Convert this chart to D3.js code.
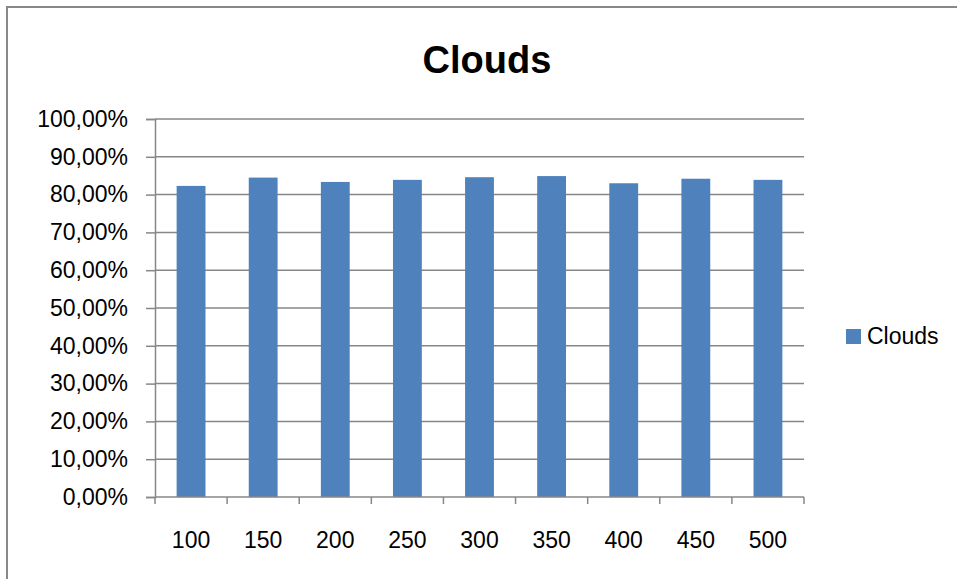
<!DOCTYPE html>
<html>
<head>
<meta charset="utf-8">
<script src="https://cdn.jsdelivr.net/npm/d3@7"></script>
<style>
  html, body { margin: 0; padding: 0; background: #fff; }
  svg { display: block; }
  text { font-family: "Liberation Sans", Arial, sans-serif; fill: #000; }
</style>
</head>
<body>
<svg id="chart" width="957" height="579"></svg>
<script>
// Chart data
const categories = ["100", "150", "200", "250", "300", "350", "400", "450", "500"];
const clouds = [0.823, 0.845, 0.8335, 0.839, 0.846, 0.849, 0.830, 0.842, 0.839];
const yTicks = [0, 0.1, 0.2, 0.3, 0.4, 0.5, 0.6, 0.7, 0.8, 0.9, 1.0];
const seriesName = "Clouds";
const chartTitle = "Clouds";

const svg = d3.select("#chart");
const W = 957, H = 579;
const plot = { left: 155, right: 804, top: 119, bottom: 497 };
const axisColor = "#878787";
const barColor = "#4F81BD";
const labelSize = 23;

// Comma decimal locale for percentage labels
const locale = d3.formatLocale({ decimal: ",", thousands: ".", grouping: [3], currency: ["", "€"] });
const pct = locale.format(".2%");

// Outer chart frame
svg.append("rect")
  .attr("x", 7).attr("y", 7)
  .attr("width", W + 20).attr("height", H + 20)
  .attr("fill", "#fff")
  .attr("stroke", "#888").attr("stroke-width", 2);

const x = d3.scaleBand()
  .domain(categories)
  .range([plot.left, plot.right])
  .paddingInner(0.6)
  .paddingOuter(0.3);

const y = d3.scaleLinear()
  .domain([0, 1])
  .range([plot.bottom, plot.top]);

// Horizontal gridlines
svg.append("g")
  .selectAll("line")
  .data(yTicks.slice(1))
  .join("line")
  .attr("x1", plot.left).attr("x2", plot.right)
  .attr("y1", d => y(d)).attr("y2", d => y(d))
  .attr("stroke", axisColor).attr("stroke-width", 1.5);

// Y axis
const yAxis = svg.append("g")
  .attr("transform", `translate(${plot.left},0)`)
  .call(d3.axisLeft(y).tickValues(yTicks).tickFormat(pct).tickSize(9).tickPadding(18));
yAxis.select(".domain").attr("stroke", axisColor).attr("stroke-width", 1.5);
yAxis.selectAll(".tick line").attr("stroke", axisColor).attr("stroke-width", 1.5);
yAxis.selectAll(".tick text")
  .attr("font-size", labelSize)
  .attr("font-family", "Liberation Sans, Arial, sans-serif")
  .attr("fill", "#000");

// Bars
svg.append("g")
  .selectAll("rect")
  .data(categories.map((c, i) => ({ c, v: clouds[i] })))
  .join("rect")
  .attr("x", d => x(d.c))
  .attr("width", x.bandwidth())
  .attr("y", d => y(d.v))
  .attr("height", d => y(0) - y(d.v))
  .attr("fill", barColor);

// X axis baseline with ticks at category boundaries
const gap = (x.step() - x.bandwidth()) / 2;
const bounds = categories.map(c => x(c) - gap).concat([x(categories[categories.length - 1]) + x.bandwidth() + gap]);
const xg = svg.append("g");
xg.append("line")
  .attr("x1", plot.left).attr("x2", plot.right)
  .attr("y1", y(0)).attr("y2", y(0))
  .attr("stroke", axisColor).attr("stroke-width", 1.5);
xg.selectAll("line.tick")
  .data(bounds)
  .join("line")
  .attr("class", "tick")
  .attr("x1", d => d).attr("x2", d => d)
  .attr("y1", y(0)).attr("y2", y(0) + 7)
  .attr("stroke", axisColor).attr("stroke-width", 1.5);
xg.selectAll("text")
  .data(categories)
  .join("text")
  .attr("x", d => x(d) + x.bandwidth() / 2)
  .attr("y", 548)
  .attr("text-anchor", "middle")
  .attr("font-size", labelSize)
  .text(d => d);

// Title
svg.append("text")
  .attr("x", 487).attr("y", 73)
  .attr("text-anchor", "middle")
  .attr("font-size", 38)
  .attr("font-weight", "bold")
  .text(chartTitle);

// Legend
const lg = svg.append("g").attr("transform", "translate(846,329)");
lg.append("rect").attr("width", 15).attr("height", 15).attr("fill", barColor);
lg.append("text").attr("x", 21).attr("y", 15).attr("font-size", labelSize).text(seriesName);
</script>
</body>
</html>
